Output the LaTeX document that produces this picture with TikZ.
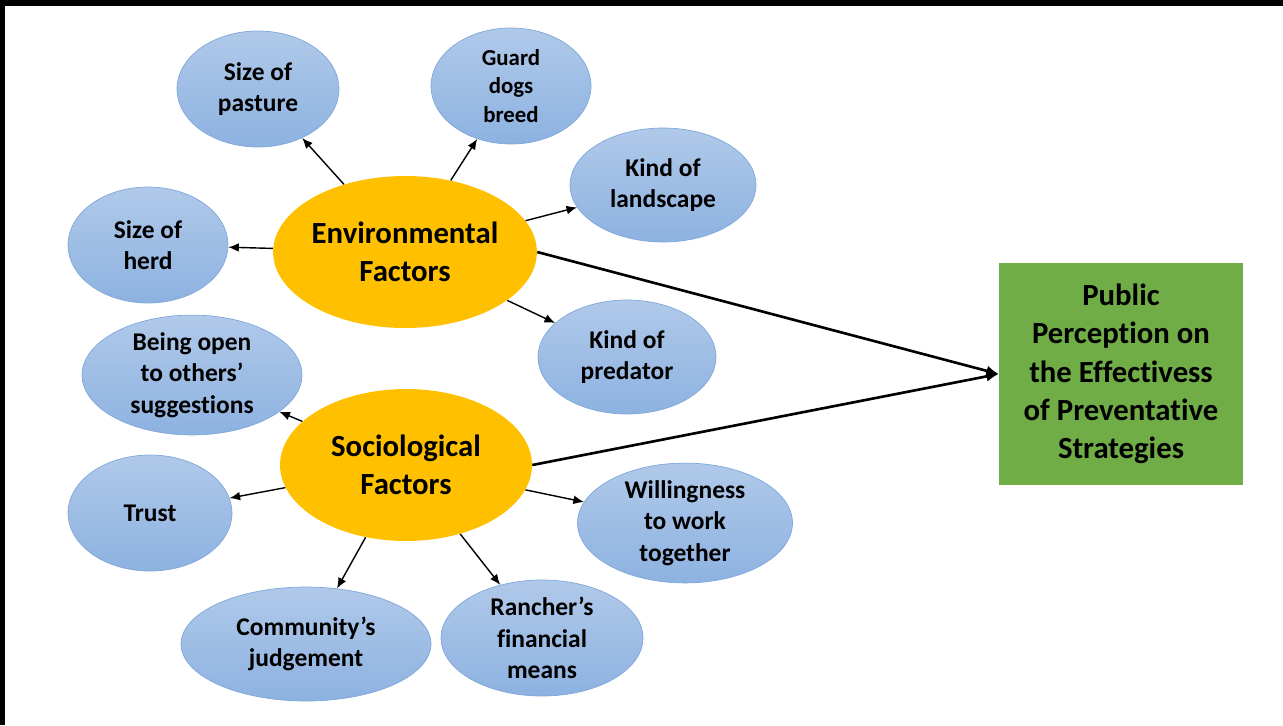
\documentclass[tikz,border=0pt]{standalone}
\usepackage{fontspec}
\setmainfont{Carlito}[Ligatures={NoCommon}]
\usetikzlibrary{shapes.geometric,arrows.meta,positioning}

\definecolor{factorgold}{HTML}{FFC000}
\definecolor{outcomegreen}{HTML}{70AD47}
\definecolor{itemtop}{HTML}{B0C9E9}
\definecolor{itembottom}{HTML}{8DB2E1}
\definecolor{itemline}{HTML}{7FA7DA}

\begin{document}
\begin{tikzpicture}[x=0.02cm,y=-0.02cm]
   \tikzset{item node/.style={ellipse, draw=itemline, top color=itemtop,
   		bottom color=itembottom, align=center, inner sep=0pt,
   		font=\bfseries\fontsize{14.5}{17.8}\selectfont}, }
   \tikzset{factor node/.style={ellipse, fill=factorgold, align=center,
   		inner sep=0pt, font=\bfseries\fontsize{17.5}{21.6}\selectfont}, }
   \tikzset{outcome node/.style={rectangle, fill=outcomegreen, align=center,
   		inner sep=0pt, font=\bfseries\fontsize{17.5}{21.8}\selectfont}, }
   \tikzset{linea/.style={-{Latex[length=6pt,width=5pt]}, line width=0.8pt},}
   \tikzset{linea main/.style={-{Latex[length=7pt,width=6pt]}, line width=1.5pt},}

\useasboundingbox (0,0) rectangle (1283,725);
\fill[black] (0,0) rectangle (1283,6);
\fill[black] (0,0) rectangle (5,725);

\node[factor node, minimum width=5cm, minimum height=3.04cm] (env) at (405,252) {Environmental\\Factors};
\node[factor node, minimum width=5.04cm, minimum height=3.04cm] (soc) at (406,465) {Sociological\\Factors};
\node[outcome node, minimum width=4.88cm, minimum height=4.44cm] (outcome) at (1121,374)
   {Public\\Perception on\\the Effectivess\\of Preventative\\Strategies};

\node[item node, minimum width=3.24cm, minimum height=2.32cm] (pasture) at (258,89) {Size of\\pasture};
\node[item node, minimum width=3.2cm, minimum height=2.32cm,
   font=\bfseries\fontsize{13}{16.4}\selectfont] (guard) at (511,86) {Guard\\dogs\\breed};
\node[item node, minimum width=3.72cm, minimum height=2.28cm] (landscape) at (663,185) {Kind of\\landscape};
\node[item node, minimum width=3.2cm, minimum height=2.32cm] (herd) at (148,245) {Size of\\herd};
\node[item node, minimum width=3.56cm, minimum height=2.28cm] (predator) at (627,357) {Kind of\\predator};
\node[item node, minimum width=4.4cm, minimum height=2.32cm] (open) at (192,375) {Being open\\to others’\\suggestions};
\node[item node, minimum width=3.28cm, minimum height=2.32cm] (trust) at (150,513) {Trust};
\node[item node, minimum width=4.3cm, minimum height=2.28cm] (willing) at (685,523) {Willingness\\to work\\together};
\node[item node, minimum width=5cm, minimum height=2.28cm] (community) at (306,644) {Community’s\\judgement};
\node[item node, minimum width=4.04cm, minimum height=2.32cm] (rancher) at (542,638) {Rancher’s\\financial\\means};

\foreach \x /\y in {env/pasture,env/guard,env/landscape,env/herd,env/predator,
   soc/open,soc/trust,soc/community,soc/rancher,soc/willing}
\path[linea] (\x) edge node {} (\y);
\draw[linea main] (env.east) -- (outcome.west);
\draw[linea main] (soc.east) -- (outcome.west);
%
\end{tikzpicture}
\end{document}
